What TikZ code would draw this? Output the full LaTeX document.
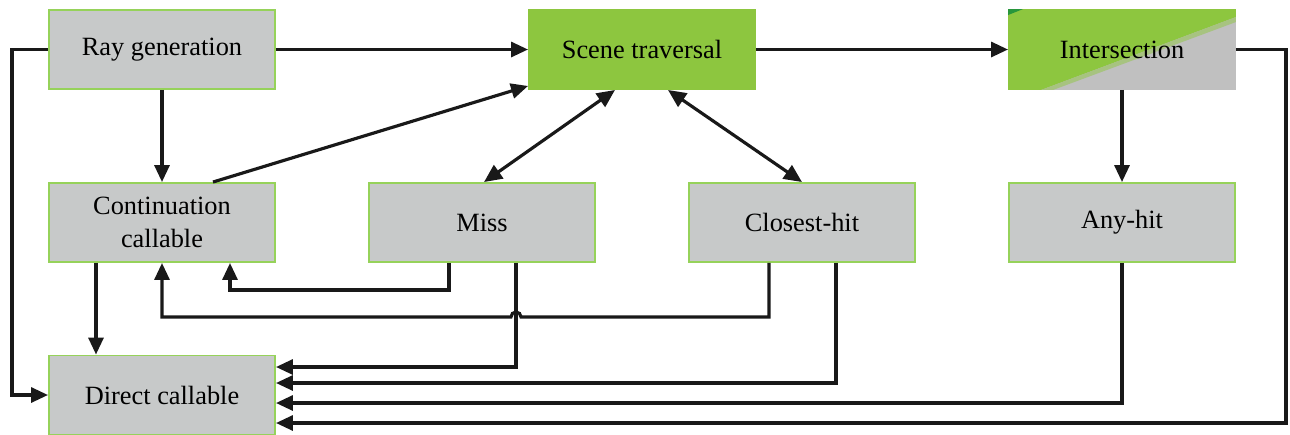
\documentclass[tikz,border=0pt]{standalone}
\usepackage{fontspec}
\setmainfont{Liberation Serif}
\usetikzlibrary{arrows.meta,positioning,calc,backgrounds}
\definecolor{boxgray}{RGB}{199,201,201}
\definecolor{intergray}{RGB}{192,192,192}
\definecolor{boxgreen}{RGB}{141,198,63}
\definecolor{edgegreen}{RGB}{150,210,90}
\definecolor{darkgreen}{RGB}{40,150,60}

\begin{document}
\begin{tikzpicture}[
  box/.style={draw=edgegreen, line width=1.1pt, fill=boxgray, minimum width=4.52cm, minimum height=1.58cm, align=center, font=\fontsize{15}{19}\selectfont},
  greenbox/.style={box, fill=boxgreen, draw=boxgreen},
  arr/.style={-{Triangle[length=0.34cm, width=0.3cm]}, line width=1.8pt, draw=black!90},
  dblarr/.style={{Triangle[length=0.36cm, width=0.32cm]}-{Triangle[length=0.36cm, width=0.32cm]}, line width=1.8pt, draw=black!90}]
\useasboundingbox (0,0) rectangle (25.8,-8.68);
% top row
\node[box] (raygen) at (3.24, -0.99) {Ray generation};
\node[greenbox] (scene) at (12.84, -0.99) {Scene traversal};
\node[box, fill=none, draw=none] (inter) at (22.44, -0.99) {Intersection};
\begin{scope}[on background layer]
\fill[intergray] (inter.south west) rectangle (inter.north east);
\fill[boxgreen] (inter.north west) -- (inter.north east) -- ($(inter.north east)+(0,-0.16)$) -- ($(inter.south west)+(0.66,0)$) -- (inter.south west) -- cycle;
\fill[boxgreen!50!intergray] ($(inter.north east)+(0,-0.16)$) -- ($(inter.south west)+(0.66,0)$) -- ($(inter.south west)+(0.9,0)$) -- ($(inter.north east)+(0,-0.26)$) -- cycle;
\fill[darkgreen] (inter.north west) -- ++(0.3,0) -- ++(-0.3,-0.12) -- cycle;
\end{scope}
% middle row
\node[box] (cont) at (3.24, -4.45) {Continuation\\callable};
\node[box] (miss) at (9.64, -4.45) {Miss};
\node[box] (closest) at (16.04, -4.45) {Closest-hit};
\node[box] (anyhit) at (22.44, -4.45) {Any-hit};
% bottom
\node[box] (direct) at (3.24, -7.9) {Direct callable};

\draw[arr] (raygen) -- (scene);
\draw[arr] (scene) -- (inter);
\draw[arr] (raygen) -- (cont);
\draw[arr] (inter) -- (anyhit);
\draw[arr] ($(cont.north)+(1.02,0)$) -- ($(scene.south west)+(0,0.08)$);
\draw[dblarr] ($(miss.north)+(0.04,0)$) -- ($(scene.south)+(-0.54,0)$);
\draw[dblarr] (closest.north) -- ($(scene.south)+(0.52,0)$);
\draw[arr] (raygen.west) -- ++(-0.72,0) |- (direct.west);
\draw[arr] ($(cont.south)+(-1.32,0)$) -- ($(direct.north)+(-1.32,0)$);
% returns to continuation callable
\draw[arr] ($(miss.south)+(-0.66,0)$) -- ++(0,-0.54) -| ($(cont.south)+(1.36,0)$);
\coordinate (hop) at ($(miss.south)+(0.68,-1.08)$);
\draw[arr] ($(closest.south)+(-0.66,0)$) -- ++(0,-1.08) -- ($(hop)+(0.1,0)$) arc[start angle=0, end angle=180, radius=0.1] -| (cont.south);
% calls into direct callable
\draw[arr] ($(miss.south)+(0.68,0)$) |- ($(direct.east)+(0,0.56)$);
\draw[arr] ($(closest.south)+(0.68,0)$) |- ($(direct.east)+(0,0.24)$);
\draw[arr] (anyhit.south) |- ($(direct.east)+(0,-0.16)$);
\draw[arr] (inter.east) -- ++(1.0,0) |- ($(direct.east)+(0,-0.56)$);
\end{tikzpicture}
\end{document}
